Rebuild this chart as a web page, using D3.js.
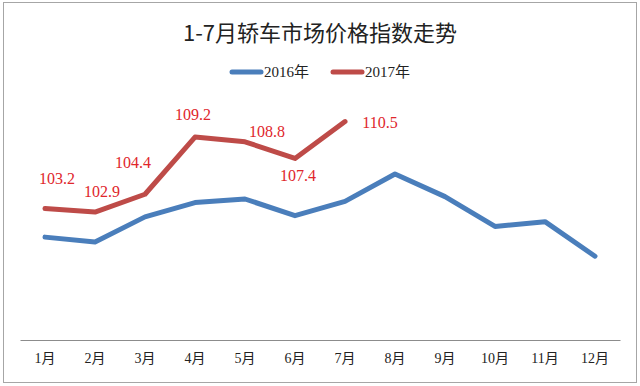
<!DOCTYPE html>
<html>
<head>
<meta charset="utf-8">
<script src="https://cdn.jsdelivr.net/npm/d3@7"></script>
<style>
  body { margin: 0; background: #fff; }
  .serif { font-family: "Liberation Serif", "Times New Roman", "DejaVu Serif", "Noto Sans CJK SC", serif; }
</style>
</head>
<body>
<script>
  // 数据
  const months = ["1月", "2月", "3月", "4月", "5月", "6月", "7月", "8月", "9月", "10月", "11月", "12月"];
  const values2016 = [100.8, 100.4, 102.5, 103.7, 104.0, 102.6, 103.8, 106.1, 104.2, 101.7, 102.1, 99.2];
  const values2017 = [103.2, 102.9, 104.4, 109.2, 108.8, 107.4, 110.5];
  const seriesNames = ["2016年", "2017年"];

  // 数据标签的偏移 (相对点的位置)
  const labelOffsets = [[12, -25], [7, -15], [-12, -26], [-2, -17], [22, -5], [3, 23], [35, 6]];

  const w = 640, h = 386;
  const colors = ["#4a7ebb", "#be4b48"];

  const svg = d3.select("body").append("svg")
    .attr("width", w)
    .attr("height", h);

  // 外框
  svg.append("rect")
    .attr("x", 3.5).attr("y", 2.5)
    .attr("width", 633).attr("height", 380)
    .attr("fill", "#fff")
    .attr("stroke", "#a6a6a6");

  const xScale = d3.scaleBand()
    .domain(months)
    .range([20, 620]);

  const yScale = d3.scaleLinear()
    .domain([92, 116])
    .range([342, 56]);

  const cx = d => xScale(d) + xScale.bandwidth() / 2;

  // 标题
  svg.append("text")
    .attr("x", 320).attr("y", 41)
    .attr("text-anchor", "middle")
    .attr("font-family", "'Noto Sans CJK SC', sans-serif")
    .attr("font-size", 22)
    .attr("fill", "#222")
    .text("1-7月轿车市场价格指数走势");

  // 图例
  const legend = svg.append("g").attr("transform", "translate(230,72)");
  const legendX = [0, 101];
  seriesNames.forEach((name, i) => {
    const g = legend.append("g").attr("transform", "translate(" + legendX[i] + ",0)");
    g.append("line")
      .attr("x1", 2).attr("x2", 31)
      .attr("stroke", colors[i])
      .attr("stroke-width", 5)
      .attr("stroke-linecap", "round");
    g.append("text")
      .attr("class", "serif")
      .attr("x", 34).attr("y", 5)
      .attr("font-size", 15)
      .attr("fill", "#222")
      .text(name);
  });

  // x轴
  const xAxis = d3.axisBottom(xScale).tickSize(0).tickPadding(13);
  const axisG = svg.append("g")
    .attr("transform", "translate(0,340)")
    .call(xAxis);
  axisG.attr("font-family", null);
  axisG.select(".domain").attr("stroke", "#8c8c8c").attr("d", "M20.5,0.5H620.5");
  axisG.selectAll("text")
    .attr("class", "serif")
    .attr("font-size", 14)
    .attr("fill", "#222");

  const line = d3.line()
    .x((d, i) => cx(months[i]))
    .y(d => yScale(d));

  [values2016, values2017].forEach((vals, i) => {
    svg.append("path")
      .datum(vals)
      .attr("d", line)
      .attr("fill", "none")
      .attr("stroke", colors[i])
      .attr("stroke-width", 5)
      .attr("stroke-linejoin", "round")
      .attr("stroke-linecap", "round");
  });

  // 2017 数据标签
  svg.selectAll(".lbl")
    .data(values2017)
    .enter()
    .append("text")
    .attr("class", "lbl serif")
    .attr("x", (d, i) => cx(months[i]) + labelOffsets[i][0])
    .attr("y", (d, i) => yScale(d) + labelOffsets[i][1])
    .attr("text-anchor", "middle")
    .attr("font-size", 16)
    .attr("fill", "#e0262b")
    .text(d => d.toFixed(1));
</script>
</body>
</html>
